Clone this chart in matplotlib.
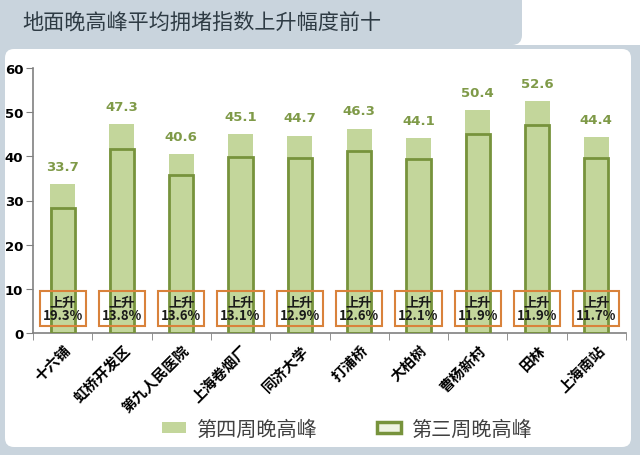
import matplotlib
matplotlib.use("Agg")
import matplotlib.pyplot as plt
from matplotlib.patches import FancyBboxPatch, Rectangle, Patch
from matplotlib.transforms import IdentityTransform

plt.rcParams['font.family'] = ['Noto Sans CJK SC', 'DejaVu Sans']

categories = ['十六铺', '虹桥开发区', '第九人民医院', '上海卷烟厂', '同济大学',
              '打浦桥', '大柏树', '曹杨新村', '田林', '上海南站']
week4 = [33.7, 47.3, 40.6, 45.1, 44.7, 46.3, 44.1, 50.4, 52.6, 44.4]
week3 = [28.2, 41.6, 35.7, 39.9, 39.6, 41.1, 39.3, 45.0, 47.0, 39.7]
rise = ['19.3%', '13.8%', '13.6%', '13.1%', '12.9%', '12.6%', '12.1%', '11.9%', '11.9%', '11.7%']
yticks = [0, 10, 20, 30, 40, 50, 60]

title = '地面晚高峰平均拥堵指数上升幅度前十'
legend_labels = ['第四周晚高峰', '第三周晚高峰']

light_green = '#c3d69b'
dark_green = '#77933c'
label_green = '#7f9a48'
orange = '#d9823b'
frame_grey = '#c9d4dd'

W, H = 640, 456
fig = plt.figure(figsize=(W / 100, H / 100), dpi=100)
fig.patch.set_facecolor('white')

# Frame: tab + border
tab = FancyBboxPatch((-20, H - 46), 542, 80, boxstyle='round,pad=0,rounding_size=10',
                     facecolor=frame_grey, edgecolor='none', transform=IdentityTransform(),
                     zorder=-10)
fig.patches.append(tab)
border = Rectangle((0, 0), W, H - 46, facecolor=frame_grey, edgecolor='none',
                   transform=IdentityTransform(), zorder=-9)
fig.patches.append(border)
panel = FancyBboxPatch((5, H - 448), 626, 398, boxstyle='round,pad=0,rounding_size=9',
                       facecolor='white', edgecolor='none', transform=IdentityTransform(),
                       zorder=-8)
fig.patches.append(panel)

fig.text(22 / W, 1 - 23 / H, title, fontsize=15.2, color='#2e3b44', va='center', ha='left',
         fontweight='light')

ax = fig.add_axes([33 / W, 1 - 334 / H, 593 / W, 265 / H])
ax.set_facecolor('none')

x = list(range(len(categories)))
bw = 0.42
ax.bar(x, week4, width=bw, color=light_green, edgecolor='none', zorder=2)
ax.bar(x, week3, width=bw * 0.97, facecolor='none', edgecolor=dark_green, linewidth=2, zorder=3)

for xi, v in zip(x, week4):
    ax.annotate(f'{v:.1f}', (xi, v), xytext=(0, 8), textcoords='offset points',
                ha='center', va='bottom', fontsize=9.5, fontweight='bold', color=label_green,
                family=['DejaVu Sans'])

for xi, r in zip(x, rise):
    ax.add_patch(Rectangle((xi - 0.39, 1.6), 0.78, 7.9, fill=False, edgecolor=orange,
                           linewidth=1.5, zorder=4))
    ax.text(xi, 5.55, '上升\n' + r, ha='center', va='center', fontsize=9.5,
            fontweight='bold', color='#1a1a1a', linespacing=0.95, zorder=5)

ax.set_xlim(-0.5, len(categories) - 0.5)
ax.set_ylim(0, 60)
ax.set_yticks(yticks)
ax.set_yticklabels([str(t) for t in yticks], fontsize=9.5, fontweight='bold', family=['DejaVu Sans'])
ax.set_xticks(x)
ax.set_xticklabels(categories, rotation=45, ha='right', rotation_mode='anchor',
                   fontsize=10.5, fontweight='bold')
ax.tick_params(axis='x', length=0, pad=6)
ax.set_xticks([i + 0.5 for i in range(-1, len(categories))], minor=True)
ax.tick_params(axis='x', which='minor', length=5, color='#808080', direction='out')
ax.tick_params(axis='y', length=5, color='#808080', direction='out', pad=2)
for s in ['top', 'right']:
    ax.spines[s].set_visible(False)
for s in ['left', 'bottom']:
    ax.spines[s].set_color('#808080')
    ax.spines[s].set_linewidth(1.2)

handles = [Patch(facecolor=light_green, edgecolor='none'),
           Patch(facecolor='#eef3e2', edgecolor=dark_green, linewidth=2.5)]
fig.legend(handles, legend_labels, loc='center', bbox_to_anchor=(347 / W, 1 - 430 / H),
           ncol=2, frameon=False, fontsize=14.5, handlelength=1.2, handleheight=0.45,
           columnspacing=3.0, labelcolor='#404040', handletextpad=0.5)

fig.savefig('out.png', dpi=100, facecolor=fig.get_facecolor())
